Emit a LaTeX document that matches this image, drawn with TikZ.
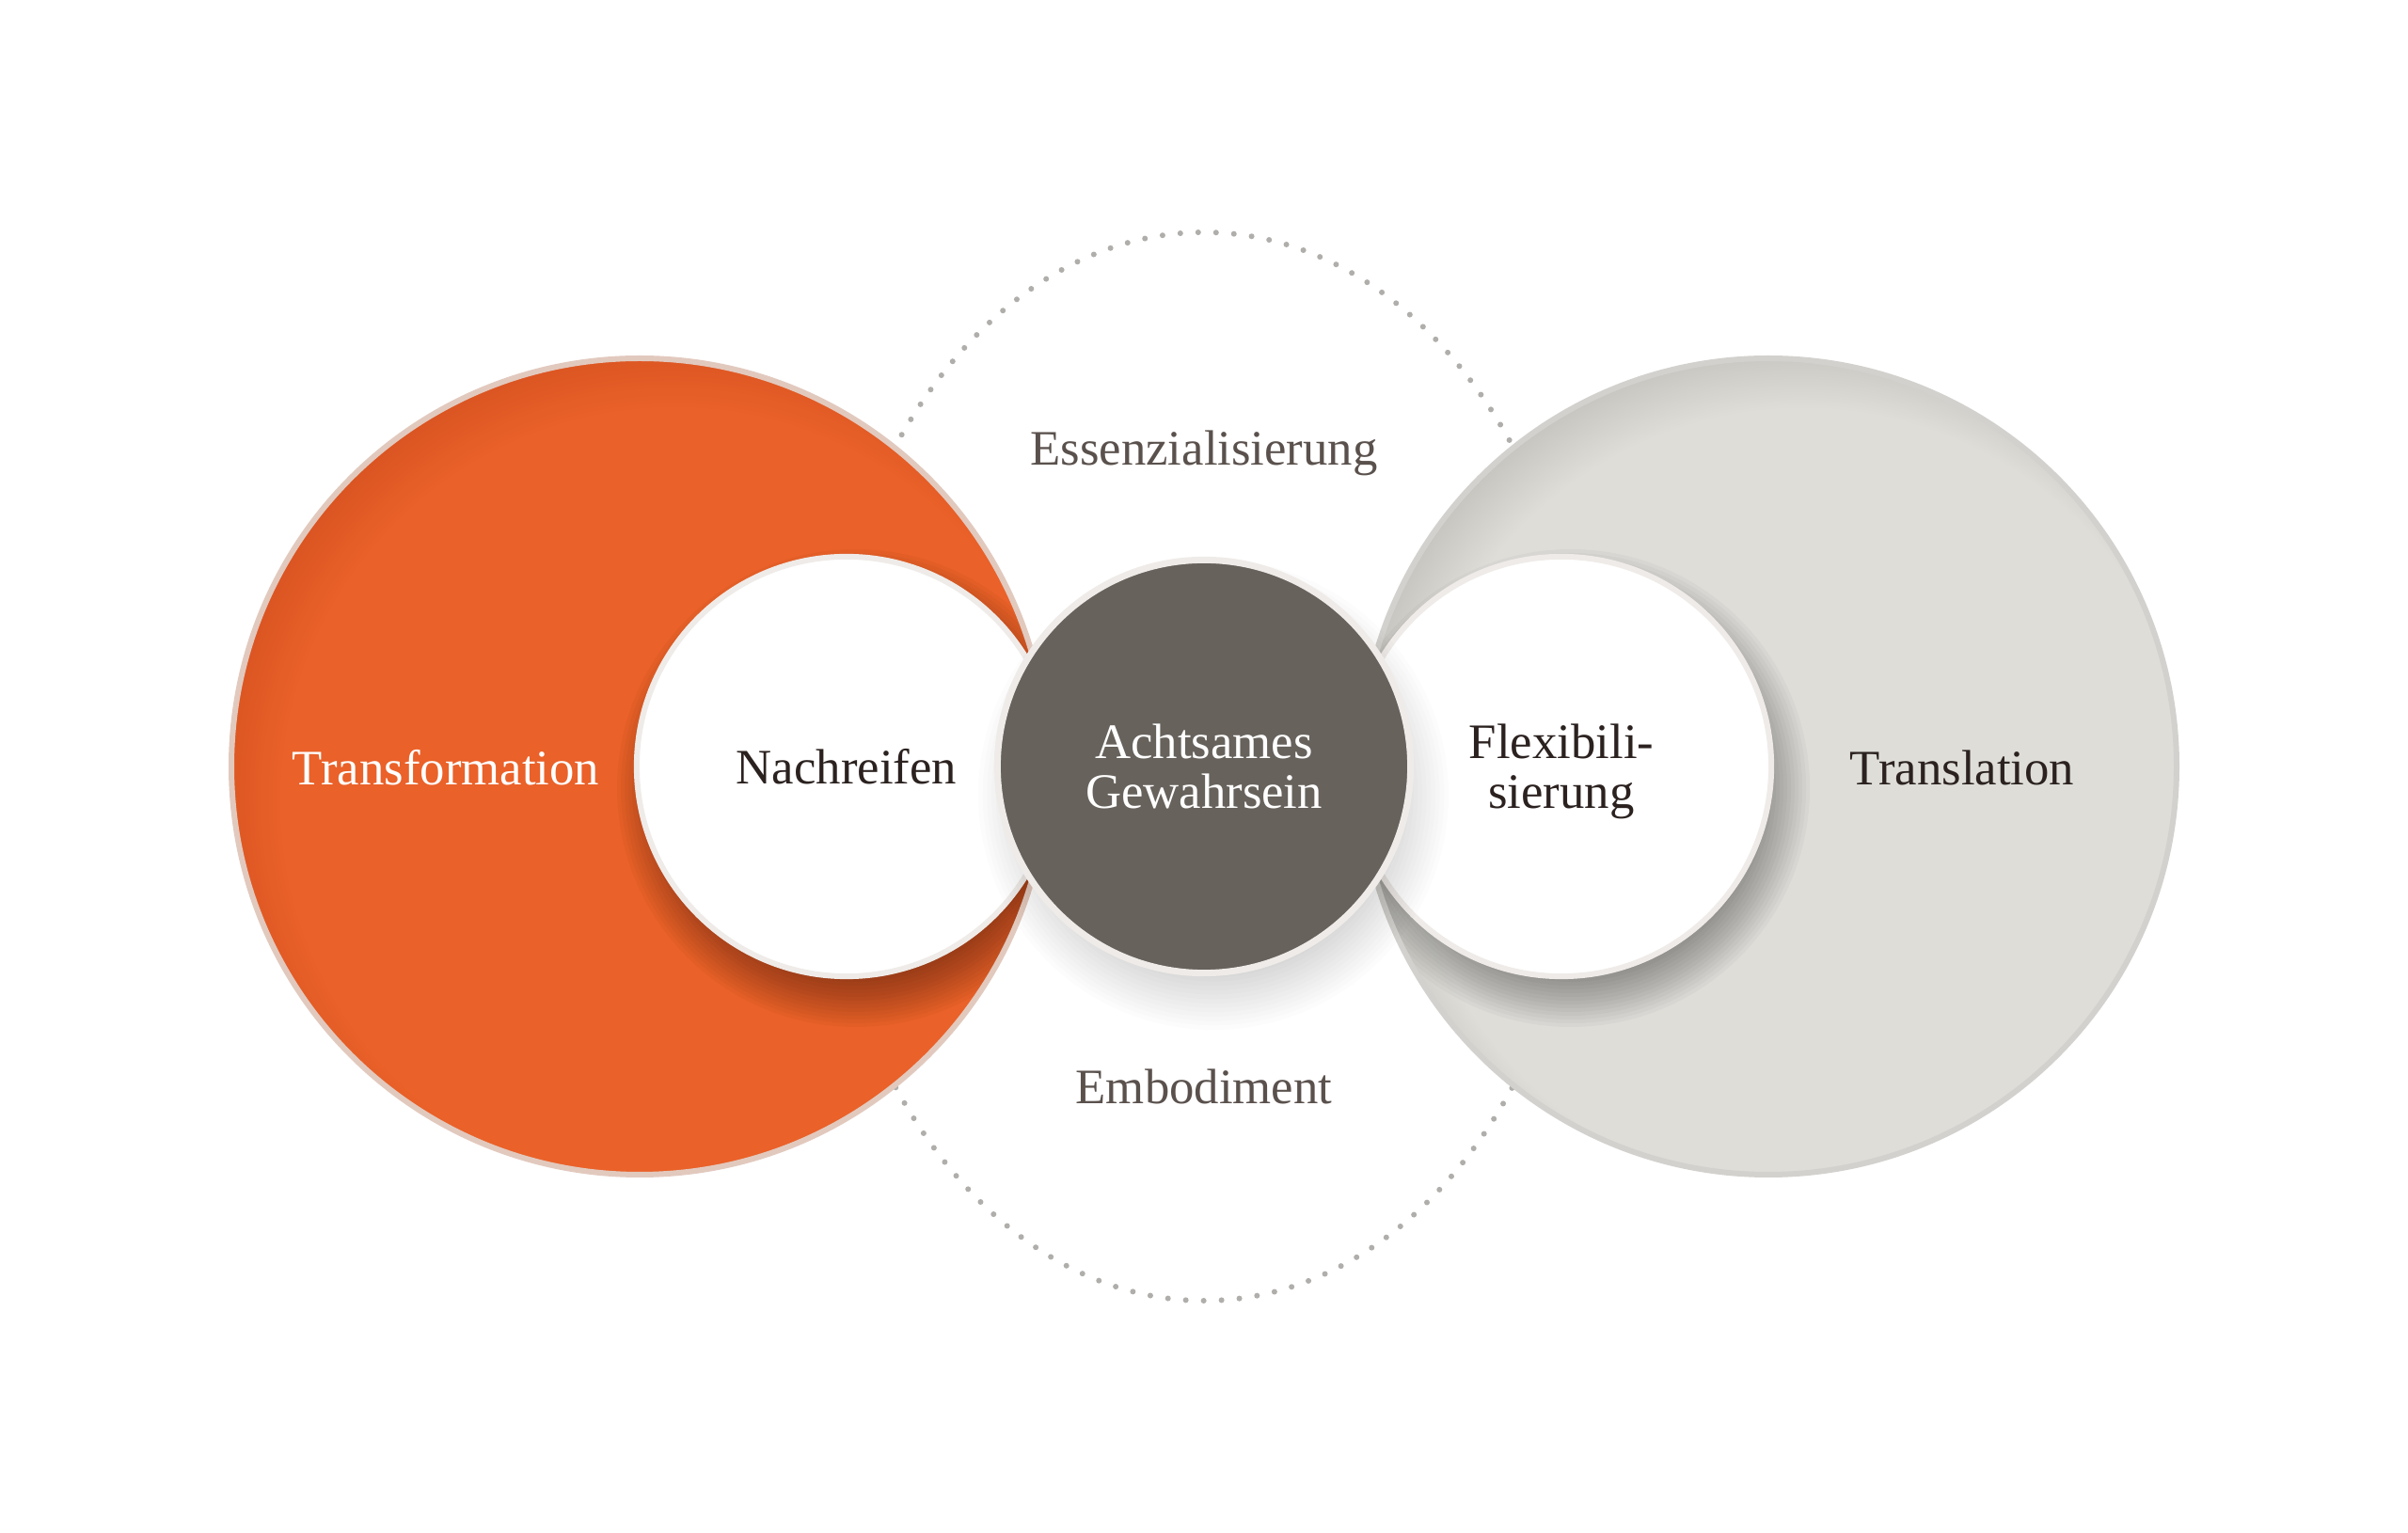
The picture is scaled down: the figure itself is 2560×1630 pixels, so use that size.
\documentclass[tikz,border=0pt]{standalone}
\usepackage{fontspec}
\setmainfont{Liberation Serif}
\definecolor{oraF}{HTML}{EA6129}
\definecolor{oraD}{HTML}{CC4A1C}
\definecolor{oraB}{HTML}{E2C9BE}
\definecolor{gryF}{HTML}{DEDDD8}
\definecolor{gryD}{HTML}{B3B1AC}
\definecolor{gryB}{HTML}{D2D1CE}
\definecolor{ringW}{HTML}{EFEBE8}
\definecolor{darkC}{HTML}{67625C}
\definecolor{dotC}{HTML}{B0AEAB}
\definecolor{txtD}{HTML}{2B2220}
\definecolor{txtG}{HTML}{5A514D}
\pgfdeclareradialshading{orashade}{\pgfpoint{4bp}{-4bp}}{color(0bp)=(oraF); color(24bp)=(oraF); color(30.5bp)=(oraD); color(50bp)=(oraD)}
\pgfdeclareradialshading{gryshade}{\pgfpoint{4bp}{-4bp}}{color(0bp)=(gryF); color(24bp)=(gryF); color(30.5bp)=(gryD); color(50bp)=(gryD)}
\newcommand\softshadow[5]{%
  \foreach \k in {0,...,15}{%
    \fill[black, opacity=#5] (#1,#2) circle ({#3+#4*(0.5-\k/15)});
  }}
\begin{document}
\begin{tikzpicture}[x=0.01cm,y=0.01cm,
  lbl/.style={font=\fontsize{15}{15.1}\selectfont, inner sep=0pt},
  ring/.style={circle, line width=0.06cm, draw=ringW, fill=white, minimum size=4.46cm, inner sep=0pt, align=center, text depth=0pt, font=\fontsize{15}{15.1}\selectfont, text=txtD},
  darkcirc/.style={circle, line width=0.07cm, draw=ringW, fill=darkC, minimum size=4.39cm, inner sep=0pt, align=center, text depth=0pt, font=\fontsize{15}{15.1}\selectfont, text=white},
  dotring/.style={dotC, line width=0.06cm, line cap=round, dash pattern=on 0cm off 0.19cm}]
\fill[white] (0,0) rectangle (2560,1630);
\useasboundingbox (0,0) rectangle (2560,1630);
% dotted ring
\draw[dotring] (1280,815) ellipse [x radius=410, y radius=568];
% big circles
\shade[shading=orashade] (680,815) circle (434);
\draw[oraB, line width=0.06cm] (680,815) circle (434);
\shade[shading=gryshade] (1880,815) circle (434);
\draw[gryB, line width=0.06cm] (1880,815) circle (434);
% shadows of the white circles
\begin{scope}
  \clip (680,815) circle (431);
  \softshadow{910}{792}{224}{60}{0.027}
\end{scope}
\begin{scope}
  \clip (1880,815) circle (431);
  \softshadow{1670}{792}{224}{60}{0.027}
\end{scope}
% white circles
\node[ring] (nach) at (900,815) {Nachreifen};
\node[ring] (flex) at (1660,815) {Flexibili-\\sierung};
% center circle
\softshadow{1290}{785}{215}{70}{0.012}
\node[darkcirc] (acht) at (1280,815) {Achtsames\\Gewahrsein};
% labels
\node[lbl, text=white, anchor=base] (trans) at (474,795) {Transformation};
\node[lbl, text=txtD, anchor=base] (transl) at (2086,795) {Translation};
\node[lbl, text=txtG, anchor=base] (ess) at (1280,1135) {Essenzialisierung};
\node[lbl, text=txtG, anchor=base] (emb) at (1280,456) {Embodiment};
\end{tikzpicture}
\end{document}
